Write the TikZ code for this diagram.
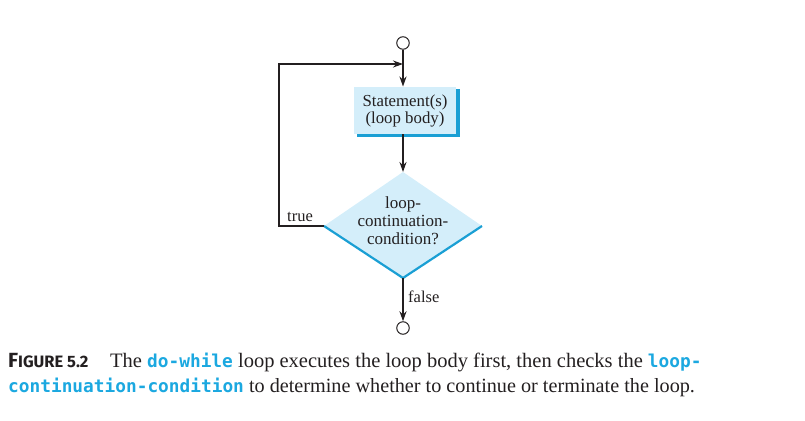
\documentclass[tikz,border=0pt]{standalone}
\usepackage{fontspec}
\setmainfont{Liberation Serif}
\newfontfamily\figfont{Fira Sans}[UprightFont=* Bold]
\newfontfamily\codefont{DejaVu Sans Mono}[UprightFont=* Bold]
\usetikzlibrary{arrows.meta,shapes.geometric}
\definecolor{boxfill}{HTML}{D4EEFA}
\definecolor{edgeblue}{HTML}{1A9FD4}
\definecolor{codecol}{HTML}{1BA8E0}
\definecolor{figcol}{HTML}{1B6B8C}
\definecolor{linecol}{HTML}{231F20}
\newcommand{\code}[1]{{\codefont\fontsize{17.8}{20}\selectfont\color{codecol}#1}}
\begin{document}
\begin{tikzpicture}[x=1pt,y=-1pt,
  conn/.style={draw=linecol,line width=1.8pt,-{Stealth[length=10pt,width=7pt]}},
  plainline/.style={draw=linecol,line width=1.8pt},
  term/.style={circle,draw=linecol,line width=1pt,fill=white,minimum size=12.5pt,inner sep=0pt},
  lbl/.style={font=\fontsize{16.5}{18}\selectfont,text=linecol,inner sep=0pt},
  captext/.style={font=\fontsize{20.5}{22}\selectfont,text=linecol,inner sep=0pt,anchor=base west}]
\useasboundingbox (0,0) rectangle (805,420);
% terminals
\node[term] (start) at (403,43) {};
\node[term] (stop) at (403,328) {};
% statement box with shadow
\fill[edgeblue] (357,89) rectangle (459.5,136.5);
\node[fill=boxfill,minimum width=102pt,minimum height=47.5pt,inner sep=0pt,align=center,
  font=\fontsize{16.8}{17}\selectfont,text=linecol] (body) at (405,110.5)
  {Statement(s)\\(loop body)};
% diamond
\coordinate (dt) at (403,172);
\coordinate (dl) at (324,226);
\coordinate (dr) at (482,226);
\coordinate (db) at (403,278);
\fill[boxfill] (dt) -- (dr) -- (db) -- (dl) -- cycle;
\draw[edgeblue,line width=2.2pt,line join=round] (dl) -- (db) -- (dr);
\node[align=center,font=\fontsize{17}{18}\selectfont,text=linecol,inner sep=0pt] (cond) at (403,221)
  {loop-\\continuation-\\condition?};
% connectors
\coordinate (join) at (403,64);
\coordinate (lefttop) at (279,64);
\coordinate (leftbot) at (279,226);
\draw[conn] (start.south) -- (body.north -| start);
\draw[conn] (body.south -| start) -- (dt);
\draw[plainline] (dl) -- (leftbot) -- (lefttop) -- ++(1,0);
\draw[conn] (lefttop) -- (join);
\draw[conn] (db) -- (stop.north);
\node[lbl,anchor=base west] (truel) at (287,221) {true};
\node[lbl,anchor=base west] (falsel) at (408,302) {false};
% caption
\node[captext,font=\figfont\color{figcol}] (fig) at (8,367.5)
  {{\fontsize{20.5}{22}\selectfont F}{\fontsize{16.5}{22}\selectfont IGURE 5.2}};
\node[captext] (c1) at (110,367.5)
  {The \code{do-while} loop executes the loop body first, then checks the \code{loop-}};
\node[captext,font=\fontsize{20.2}{22}\selectfont] (c2) at (8,392)
  {\code{continuation-condition} to determine whether to continue or terminate the loop.};
\end{tikzpicture}
\end{document}
